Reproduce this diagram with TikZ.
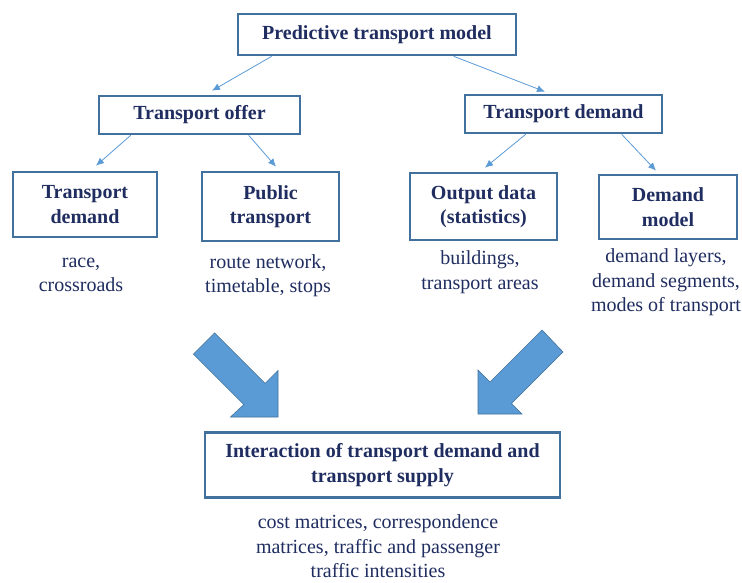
\documentclass[tikz,border=0pt]{standalone}
\usepackage{fontspec}
\setmainfont{Liberation Serif}
\usetikzlibrary{arrows.meta,calc}
\definecolor{navy}{RGB}{31,45,96}
\definecolor{boxline}{RGB}{65,113,156}
\definecolor{lightline}{RGB}{91,155,213}
\definecolor{bigfill}{RGB}{91,155,213}
\begin{document}
\begin{tikzpicture}[x=1pt,y=-1pt,
  box/.style={draw=boxline,line width=2.6pt,fill=white,align=center,inner sep=0pt,
    text=navy,font=\fontsize{20}{24.5}\selectfont\bfseries},
  note/.style={align=center,inner sep=0pt,text=navy,font=\fontsize{20}{24.5}\selectfont},
  thin/.style={draw=lightline,line width=0.8pt,-{Latex[length=8pt,width=7pt]}},
  bigarrow/.style={fill=bigfill,draw=boxline,line width=0.6pt,line join=miter}]
\useasboundingbox (0,0) rectangle (742,583);
\fill[white] (0,0) rectangle (742,583);

\node[box,minimum width=278pt,minimum height=41pt] (top) at (377,34.5) {Predictive transport model};
\node[box,minimum width=201pt,minimum height=38pt] (offer) at (199.5,115) {Transport offer};
\node[box,minimum width=197pt,minimum height=38pt] (demR) at (563.5,114) {Transport demand};
\node[box,minimum width=144pt,minimum height=65pt] (demL) at (85,204.5) {Transport\\demand};
\node[box,minimum width=137pt,minimum height=69pt] (pub) at (270.5,206.5) {Public\\transport};
\node[box,minimum width=147pt,minimum height=67pt] (out) at (483.5,206.5) {Output data\\(statistics)};
\node[box,minimum width=138pt,minimum height=64pt] (dmod) at (668,207) {Demand\\model};
\node[box,minimum width=355pt,minimum height=65pt] (inter) at (382.5,465) {Interaction of transport demand and\\transport supply};

\node[note] (t1) at (81,275) {race,\\crossroads};
\node[note] (t2) at (268,275.5) {route network,\\timetable, stops};
\node[note] (t3) at (480,272) {buildings,\\transport areas};
\node[note] (t4) at (666,282.5) {demand layers,\\demand segments,\\modes of transport};
\node[note] (t5) at (378,546.5) {cost matrices, correspondence\\matrices, traffic and passenger\\traffic intensities};

\draw[thin] ([xshift=35pt]top.south west) -- ([xshift=12.5pt,yshift=4pt]offer.north);
\draw[thin] ([xshift=217pt]top.south west) -- ([xshift=-18.5pt,yshift=2pt]demR.north);
\draw[thin] ([xshift=33pt]offer.south west) -- ([xshift=11pt,yshift=5pt]demL.north);
\draw[thin] ([xshift=151pt]offer.south west) -- ([xshift=5.5pt,yshift=4pt]pub.north);
\draw[thin] ([xshift=62pt]demR.south west) -- ([xshift=1.5pt,yshift=4pt]out.north);
\draw[thin] ([xshift=158pt]demR.south west) -- ([xshift=-12pt,yshift=3pt]dmod.north);

\draw[bigarrow] (193.4,354.1) -- (214.6,332.9) -- (265.1,383.4) -- (278,370.5)
  -- (278,417) -- (230.5,417) -- (243.9,404.6) -- cycle;
\draw[bigarrow] (542,330) -- (563,352) -- (511.5,403.5) -- (522,414)
  -- (478,414) -- (478,370) -- (490,382) -- cycle;
\end{tikzpicture}
\end{document}
